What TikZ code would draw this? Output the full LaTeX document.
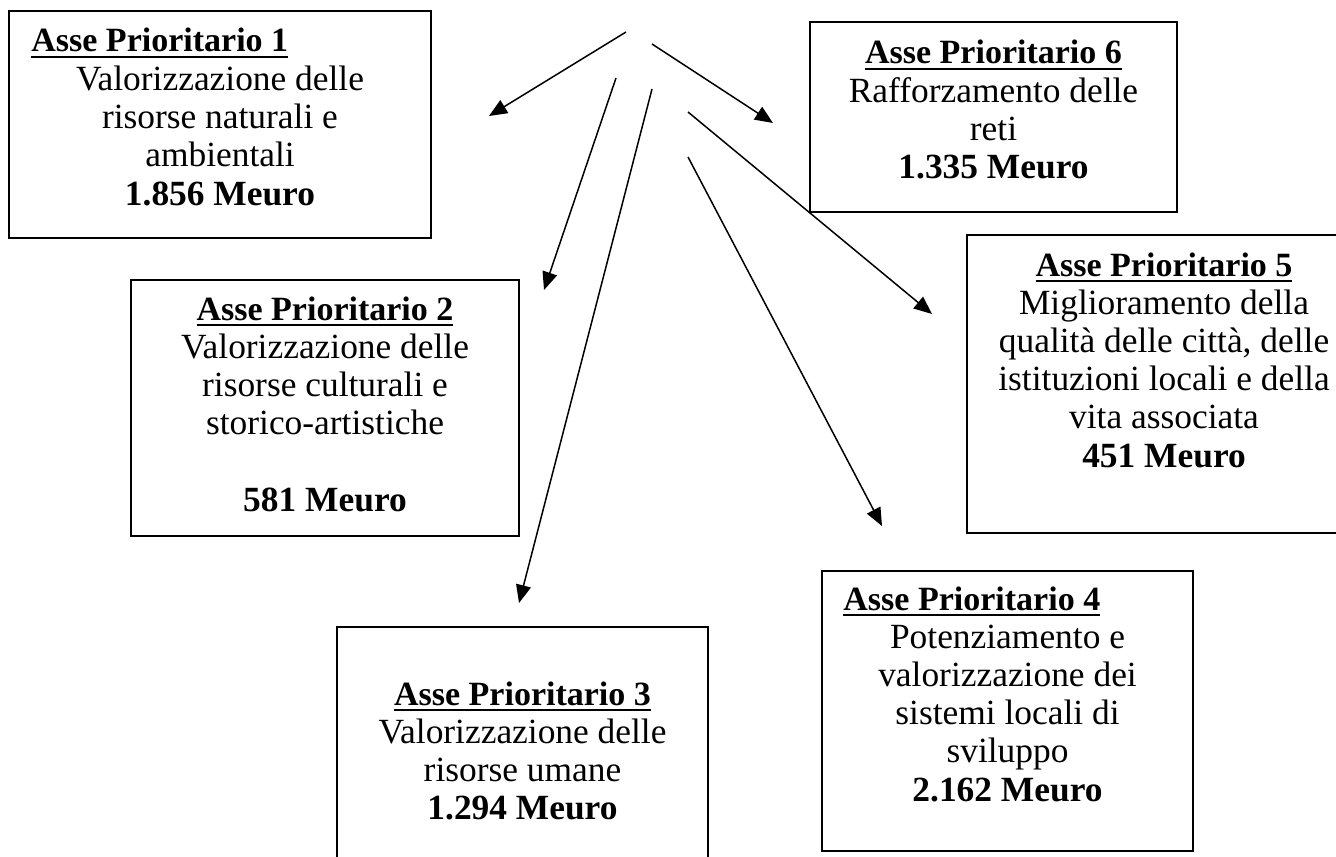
\documentclass[tikz,border=0pt]{standalone}
\usepackage{fontspec}
\setmainfont{Liberation Serif}
\usetikzlibrary{arrows.meta}
\newcommand{\ulbox}[1]{\setbox0\hbox{#1}\rlap{\rule[-3pt]{\wd0}{1pt}}\box0}
\tikzset{
  box/.style={draw=black, line width=1pt, inner sep=0pt, fill=none},
  ttl/.style={inner sep=0pt, anchor=base, font=\fontsize{17}{19.15}\selectfont\bfseries},
  ttlw/.style={ttl, anchor=base west},
  body/.style={inner sep=0pt, anchor=base, align=center, font=\fontsize{17.7}{19.15}\selectfont},
  arr/.style={line width=0.75pt, -{Triangle[length=9pt,width=7.5pt]}}
}
\begin{document}
\begin{tikzpicture}[x=0.5pt, y=-0.5pt]
\useasboundingbox (0,0) rectangle (1336,856);
% boxes
\node[box, minimum width=211pt, minimum height=113.5pt] (b1) at (220,124.5) {};
\node[box, minimum width=183.5pt, minimum height=95pt] (b6) at (993.5,117) {};
\node[box, minimum width=197pt, minimum height=149pt] (b5) at (1164,384) {};
\node[box, minimum width=194pt, minimum height=128pt] (b2) at (325,408) {};
\node[box, minimum width=185.5pt, minimum height=140pt] (b4) at (1007.5,711) {};
\node[box, minimum width=185.5pt, minimum height=126.5pt] (b3) at (522.5,753.5) {};
% texts (body nodes anchored at the baseline of their last line)
\node[ttlw] (t1) at (31,52) {\ulbox{Asse Prioritario 1}};
\node[body] (c1) at (220,205) {Valorizzazione delle\\risorse naturali e\\ambientali\\\textbf{1.856 Meuro}};
\node[ttl] (t6) at (993.5,64) {\ulbox{Asse Prioritario 6}};
\node[body] (c6) at (993.5,178.6) {Rafforzamento delle\\reti\\\textbf{1.335 Meuro}};
\node[ttl] (t5) at (1164,276) {\ulbox{Asse Prioritario 5}};
\node[body] (c5) at (1164,467.2) {Miglioramento della\\qualità delle città, delle\\istituzioni locali e della\\vita associata\\\textbf{451 Meuro}};
\node[ttl] (t2) at (325,320) {\ulbox{Asse Prioritario 2}};
\node[body] (c2) at (325,511.2) {Valorizzazione delle\\risorse culturali e\\storico-artistiche\\[19.15pt]\textbf{581 Meuro}};
\node[ttl] (t3) at (522.5,705) {\ulbox{Asse Prioritario 3}};
\node[body] (c3) at (522.5,819.6) {Valorizzazione delle\\risorse umane\\\textbf{1.294 Meuro}};
\node[ttlw] (t4) at (843,610) {\ulbox{Asse Prioritario 4}};
\node[body] (c4) at (1007.5,801.2) {Potenziamento e\\valorizzazione dei\\sistemi locali di\\sviluppo\\\textbf{2.162 Meuro}};
% arrow end points
\coordinate (s1) at (626,32);  \coordinate (e1) at (489,116);
\coordinate (s6) at (652,44);  \coordinate (e6) at (773,123);
\coordinate (s2) at (616,78);  \coordinate (e2) at (544,290);
\coordinate (s3) at (652,89);  \coordinate (e3) at (519,603);
\coordinate (s5) at (688,112); \coordinate (e5) at (932,314);
\coordinate (s4) at (688,157); \coordinate (e4) at (882,526);
\draw[arr] (s1) -- (e1);
\draw[arr] (s6) -- (e6);
\draw[arr] (s2) -- (e2);
\draw[arr] (s3) -- (e3);
\draw[arr] (s5) -- (e5);
\draw[arr] (s4) -- (e4);
\end{tikzpicture}
\end{document}
